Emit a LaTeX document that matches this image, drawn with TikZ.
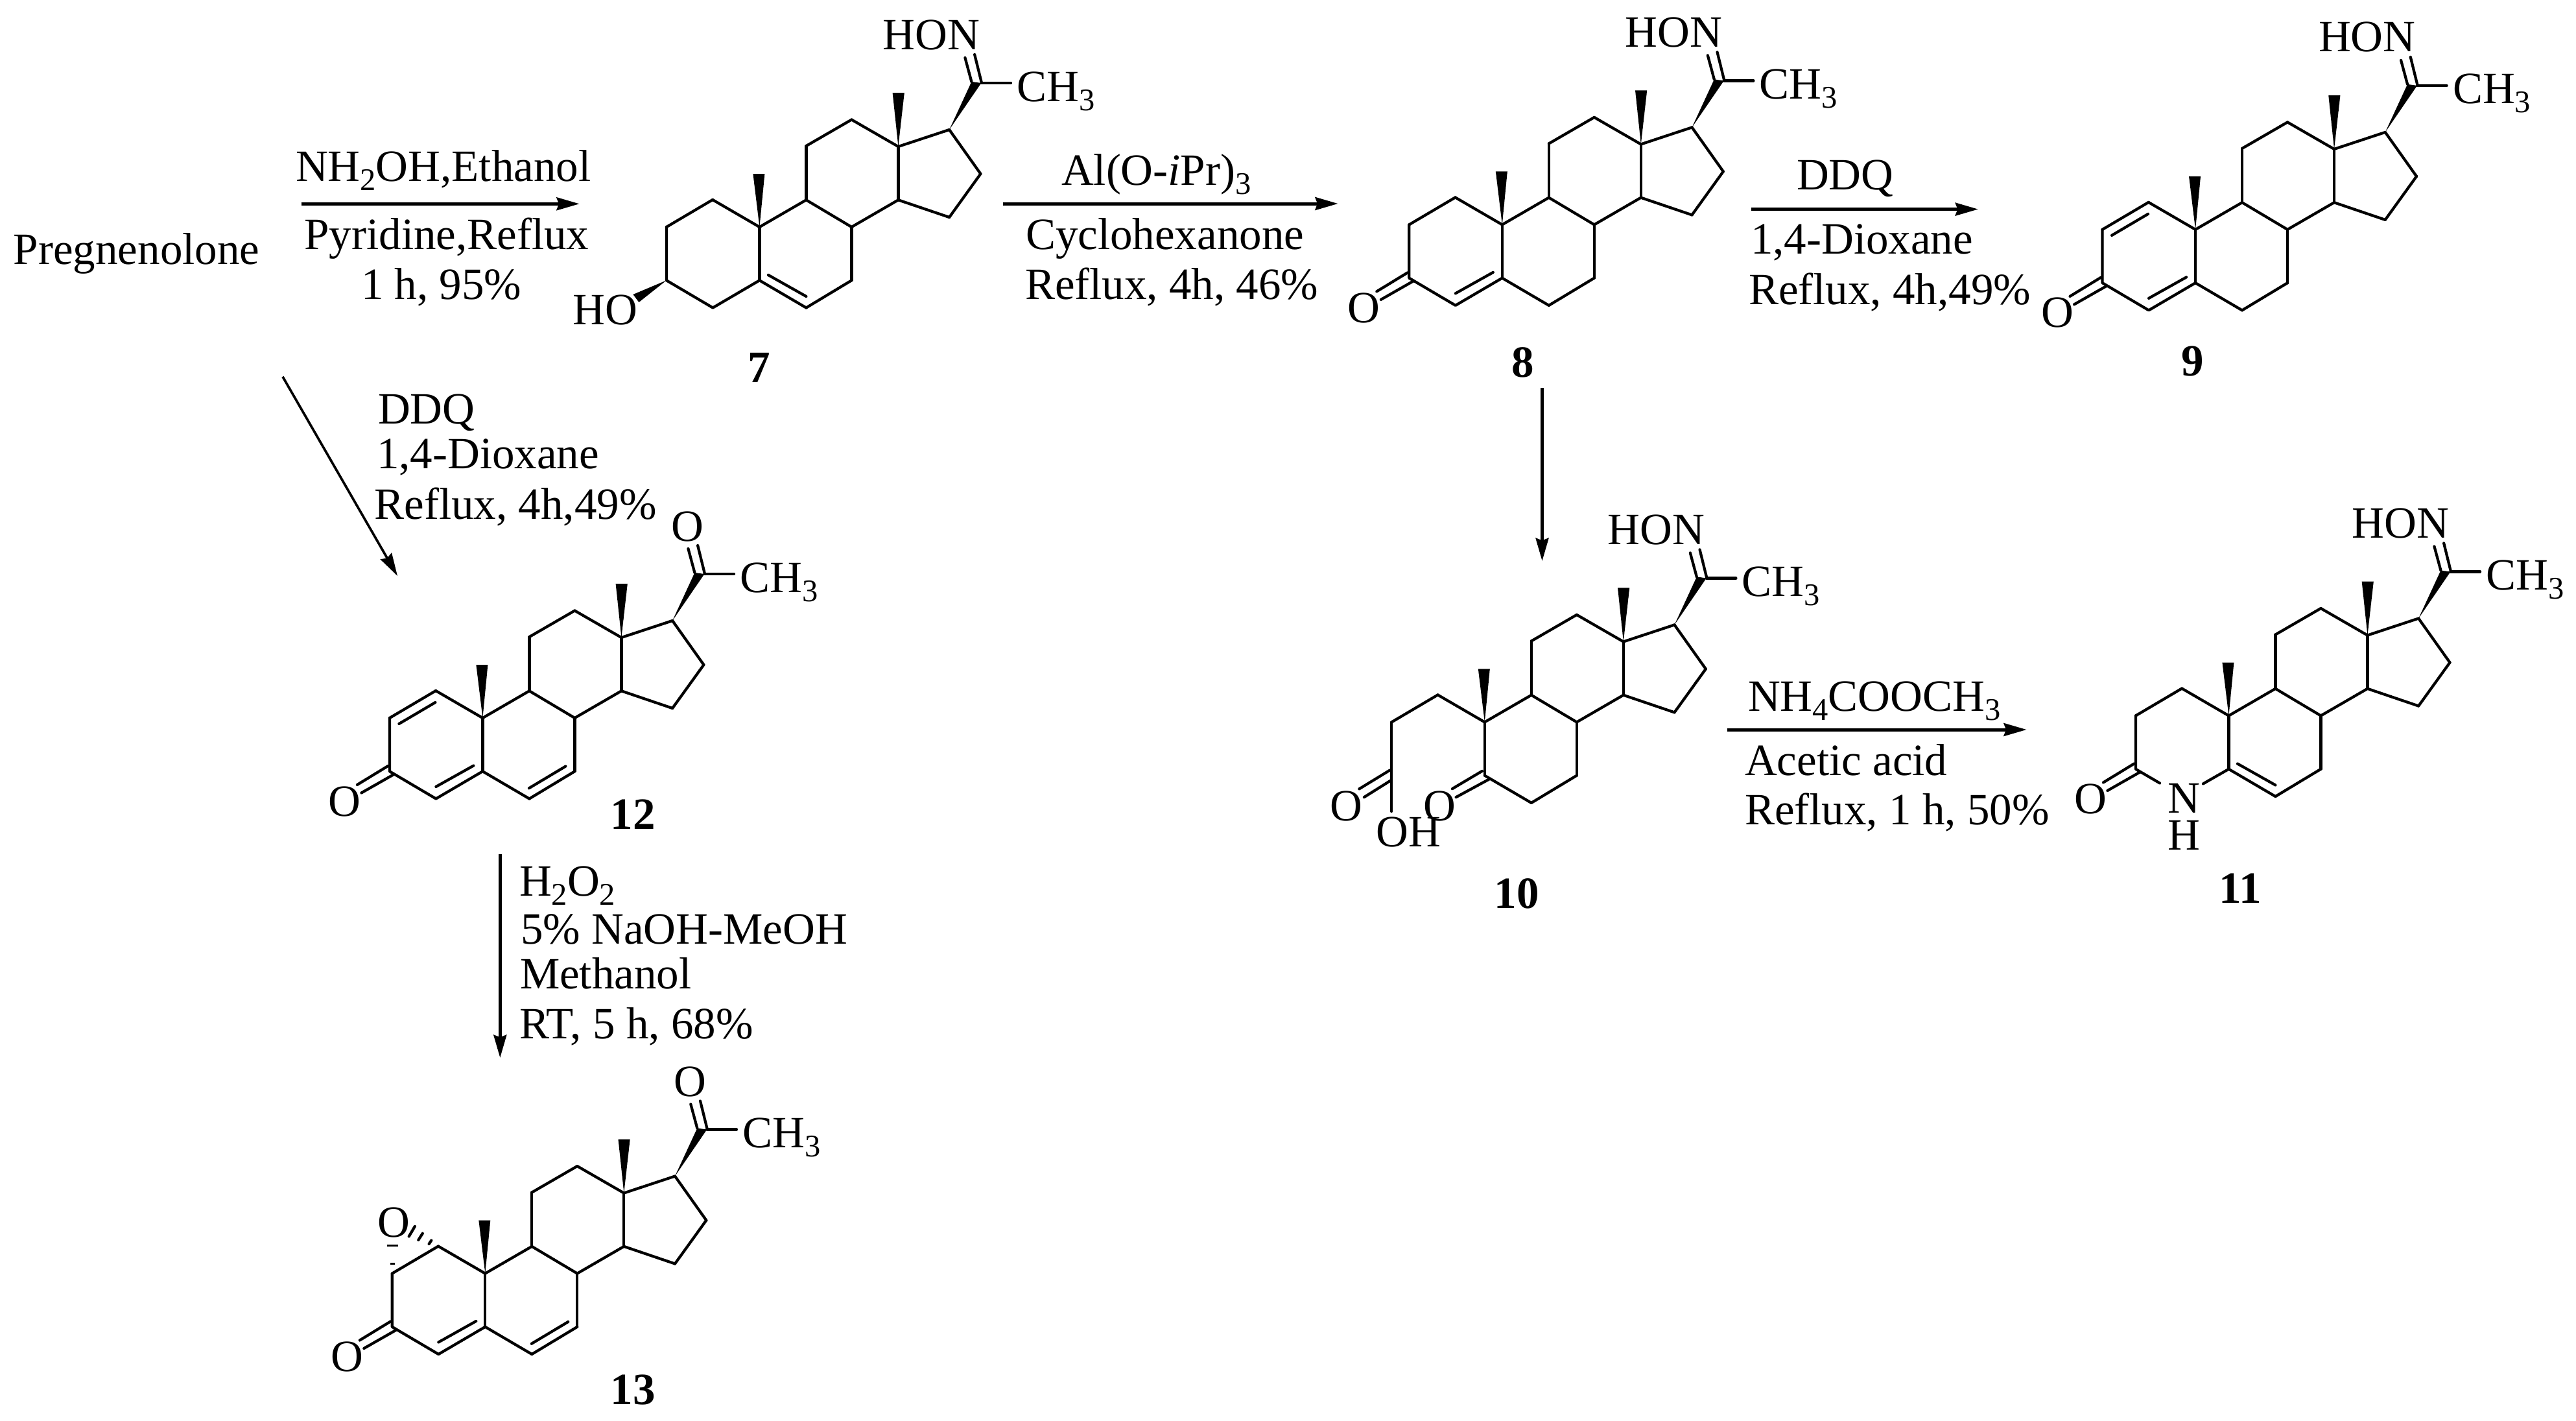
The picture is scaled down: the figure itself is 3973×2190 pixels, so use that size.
\documentclass[tikz,border=0pt]{standalone}
\usepackage{fontspec}
\setmainfont{Liberation Serif}
\usetikzlibrary{arrows.meta}
\newcommand\chemsize{\fontsize{19.62pt}{20pt}\selectfont}
\newcommand\subs[1]{\raisebox{-4pt}{\fontsize{13.8pt}{14pt}\selectfont #1}}
\tikzset{
  x=0.01cm,y=-0.01cm,
  bond/.style={line width=1.2pt,line cap=round,line join=round},
  wedge/.style={fill=black,draw=none},
  lab/.style={inner sep=0pt,outer sep=0pt,anchor=base west,font=\chemsize},
  labr/.style={lab,anchor=base east},
  cid/.style={inner sep=0pt,outer sep=0pt,anchor=base,font=\chemsize\bfseries},
  rxn/.style={line width=1.42pt,-{Stealth[length=10pt,width=5.6pt,inset=1pt]}},
  rxnthin/.style={line width=1.05pt,-{Stealth[length=10pt,width=5.6pt,inset=1pt]}},
}
% common steroid skeleton: origin at C10
\newcommand\skel[1]{%
  \foreach \n/\p in {c1/{-72.3,-42},c2/{-143.5,0},c3/{-143.5,82.3},c4/{-72,124.5},c5/{0,82.3},
    c6/{72,124.5},c7/{142,82.3},c8/{142,0},c9/{72,-41.7},c10/{0,0},c11/{72,-125},c12/{142,-165.5},
    c13/{214,-124},c14/{214,-41.7},c15/{292.7,-15},c16/{341,-82},c17/{292.7,-150},c20/{342,-222},
    me/{387.6,-222},t18a/{205.2,-207},t18b/{223.4,-207},t19a/{-10,-82},t19b/{8,-82},w20/{327,-224},
    ia/{-72,106},ib/{-14,73.5},ja/{13.5,74},jb/{72,107},ka/{71.5,108.3},kb/{128,74.5},
    la/{-73,-24},lb/{-129,9},oa/{-146,74},ob/{-193.5,103},oc/{-137,87},od/{-187,115.5},
    sa/{327,-224},sb/{317,-261},sc/{342.6,-222},sd/{331.7,-266}}
    {\coordinate (#1\n) at (\p);}
  \foreach \a/\b in {c1/c10,c1/c2,c10/c5,c10/c9,c9/c8,c8/c7,c7/c6,c6/c5,c9/c11,c11/c12,c12/c13,
    c13/c14,c14/c8,c14/c15,c15/c16,c16/c17,c17/c13,c20/me,sa/sb,sc/sd}
    {\draw[bond] (#1\a) -- (#1\b);}
  \fill[wedge] (#1c13) -- (#1t18a) -- (#1t18b) -- cycle;
  \fill[wedge] (#1c10) -- (#1t19a) -- (#1t19b) -- cycle;
  \fill[wedge] (#1c17) -- (#1w20) -- (#1c20) -- cycle;
  \node[lab] (#1me3) at (397,-194) {CH\subs{3}};
}
\newcommand\ringA[1]{\draw[bond] (#1c2) -- (#1c3) -- (#1c4) -- (#1c5);}
\newcommand\oxime[1]{\node[labr] (#1hon) at (339.5,-274) {HON};}
\newcommand\ketone[1]{\node[lab] (#1acO) at (291,-273) {O};}
\newcommand\enone[1]{%
  \draw[bond] (#1oa) -- (#1ob);
  \draw[bond] (#1oc) -- (#1od);
  \node[lab] (#1keto) at (-238,151) {O};}
\begin{document}
\begin{tikzpicture}
\path[use as bounding box,fill=white] (0,0) rectangle (3973,2190);

% 7
\begin{scope}[shift={(1171.4,350)}]
  \skel{a}\ringA{a}\oxime{a}
  \draw[bond] (aja) -- (ajb);
  \coordinate (aw1) at (-195,104); \coordinate (aw2) at (-186,116);
  \fill[wedge] (ac3) -- (aw1) -- (aw2) -- cycle;
  \node[lab] (aho) at (-288,150) {HO};
\end{scope}
\node[cid] (l7) at (1171,589) {7};

% 8
\begin{scope}[shift={(2316.8,346.4)}]
  \skel{b}\ringA{b}\oxime{b}\enone{b}
  \draw[bond] (bia) -- (bib);
\end{scope}
\node[cid] (l8) at (2348.6,581) {8};

% 9
\begin{scope}[shift={(3386,353.9)}]
  \skel{c}\ringA{c}\oxime{c}\enone{c}
  \draw[bond] (cia) -- (cib);
  \draw[bond] (cla) -- (clb);
\end{scope}
\node[cid] (l9) at (3381.6,579) {9};

% 10
\begin{scope}[shift={(2289.8,1113.4)}]
  \skel{d}\oxime{d}
  \coordinate (dch) at (-143.5,137.6);
  \coordinate (dq1) at (-4,75.5); \coordinate (dq2) at (-50,102.8);
  \coordinate (dq3) at (7.5,87.7); \coordinate (dq4) at (-44.2,115.8);
  \coordinate (dq5) at (-144.6,89.8); \coordinate (dq6) at (-186,115.8);
  \draw[bond] (dc2) -- (dch);
  \draw[bond] (doa) -- (dob);
  \draw[bond] (dq5) -- (dq6);
  \draw[bond] (dq1) -- (dq2);
  \draw[bond] (dq3) -- (dq4);
  \node[lab] (dO1) at (-238.5,151.6) {O};
  \node[lab] (dO2) at (-94.5,151.6) {O};
  \node[lab] (dOH) at (-167.5,191.7) {OH};
\end{scope}
\node[cid] (l10) at (2339,1400) {10};

% 11
\begin{scope}[shift={(3437.4,1103.5)}]
  \skel{e}\oxime{e}\enone{e}
  \coordinate (en1) at (-106.4,104); \coordinate (en2) at (-39.5,104.9);
  \draw[bond] (ec2) -- (ec3) -- (en1);
  \draw[bond] (ec5) -- (en2);
  \draw[bond] (eja) -- (ejb);
  \node[lab] (eN) at (-94,149.6) {N};
  \node[lab] (eH) at (-94,207) {H};
\end{scope}
\node[cid] (l11) at (3455,1392.7) {11};

% 12
\begin{scope}[shift={(744.4,1107)}]
  \skel{f}\ringA{f}\ketone{f}\enone{f}
  \draw[bond] (fia) -- (fib);
  \draw[bond] (fka) -- (fkb);
  \draw[bond] (fla) -- (flb);
\end{scope}
\node[cid] (l12) at (976,1278.5) {12};

% 13
\begin{scope}[shift={(748.3,1963.5)}]
  \skel{g}\ringA{g}\ketone{g}\enone{g}
  \draw[bond] (gia) -- (gib);
  \draw[bond] (gka) -- (gkb);
  \node[lab] (gep) at (-165.5,-56.5) {O};
  \coordinate (gh1) at (-83,-51);     \coordinate (gh2) at (-86.7,-45.5);
  \coordinate (gh3) at (-96.5,-61.8); \coordinate (gh4) at (-103,-51.6);
  \coordinate (gh5) at (-108.4,-72.7);\coordinate (gh6) at (-117.6,-57.1);
  \draw[bond] (gh1) -- (gh2);
  \draw[bond] (gh3) -- (gh4);
  \draw[bond] (gh5) -- (gh6);
  \fill[black] (-151.8,-45) rectangle (-133.9,-42);
  \fill[black] (-146.3,-17) rectangle (-139.8,-14);
\end{scope}
\node[cid] (l13) at (976,2165) {13};

% reaction arrows
\coordinate (r1a) at (464.7,314.3);  \coordinate (r1b) at (893.7,314.3);
\coordinate (r2a) at (1547,314);     \coordinate (r2b) at (2063.7,314);
\coordinate (r3a) at (2701,322.6);   \coordinate (r3b) at (3051,322.6);
\coordinate (r4a) at (2378.5,598);   \coordinate (r4b) at (2378.5,865);
\coordinate (r5a) at (2664,1125);    \coordinate (r5b) at (3125.7,1125);
\coordinate (r6a) at (436,580.8);    \coordinate (r6b) at (613,888);
\coordinate (r7a) at (771.3,1317.3); \coordinate (r7b) at (771.3,1631);
\draw[rxn] (r1a) -- (r1b);
\draw[rxn] (r2a) -- (r2b);
\draw[rxn] (r3a) -- (r3b);
\draw[rxn] (r4a) -- (r4b);
\draw[rxn] (r5a) -- (r5b);
\draw[rxnthin] (r6a) -- (r6b);
\draw[rxn] (r7a) -- (r7b);

% texts
\node[lab] (tpreg) at (21,407.6) {Pregnenolone};
\node[lab] (t1a) at (456,279.5) {NH\subs{2}OH,Ethanol};
\node[lab] (t1b) at (469.5,384) {Pyridine,Reflux};
\node[lab] (t1c) at (557,461) {1 h, 95\%};
\node[lab] (t2a) at (1637,285) {Al(O-\textit{i}Pr)\subs{3}};
\node[lab] (t2b) at (1582,384) {Cyclohexanone};
\node[lab] (t2c) at (1581,461) {Reflux, 4h, 46\%};
\node[lab] (t3a) at (2771,292.6) {DDQ};
\node[lab] (t3b) at (2700,391.5) {1,4-Dioxane};
\node[lab] (t3c) at (2697,469) {Reflux, 4h,49\%};
\node[lab] (t5a) at (2696,1096) {NH\subs{4}COOCH\subs{3}};
\node[lab] (t5b) at (2691,1195) {Acetic acid};
\node[lab] (t5c) at (2691,1271) {Reflux, 1 h, 50\%};
\node[lab] (t6a) at (583,653) {DDQ};
\node[lab] (t6b) at (581,722) {1,4-Dioxane};
\node[lab] (t6c) at (577.5,800.4) {Reflux, 4h,49\%};
\node[lab] (t7a) at (801,1381.6) {H\subs{2}O\subs{2}};
\node[lab] (t7b) at (803,1455) {5\% NaOH-MeOH};
\node[lab] (t7c) at (802,1524) {Methanol};
\node[lab] (t7d) at (801,1601) {RT, 5 h, 68\%};
\end{tikzpicture}
\end{document}
